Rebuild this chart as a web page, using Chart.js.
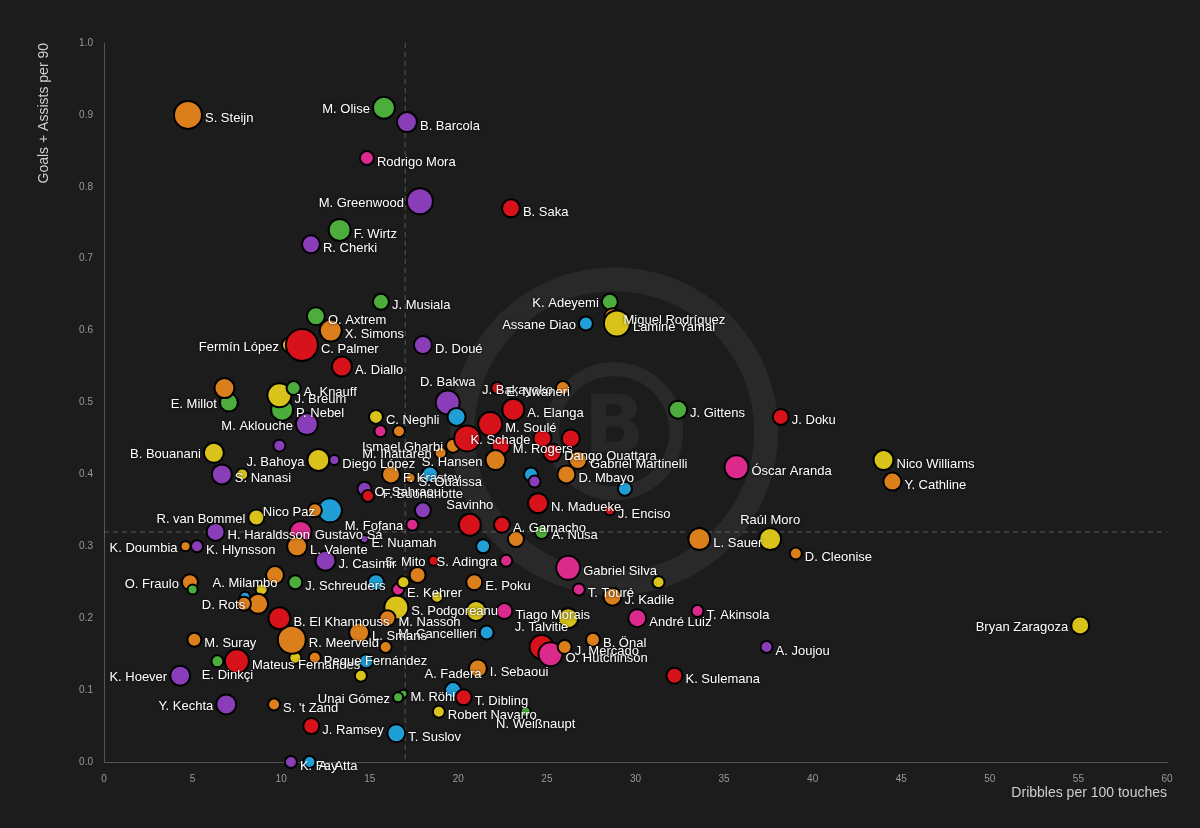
<!DOCTYPE html>
<html>
<head>
<meta charset="utf-8">
<script src="https://cdn.jsdelivr.net/npm/chart.js@4"></script>
<style>
  body { margin: 0; background: #1c1c1c; }
  #wrap { width: 1200px; height: 828px; }
</style>
</head>
<body>
<div id="wrap"><canvas id="chart"></canvas></div>
<script>
const names = ["S. Steijn","M. Olise","B. Barcola","Rodrigo Mora","M. Greenwood","B. Saka","F. Wirtz","R. Cherki","J. Musiala","O. Axtrem",
  "X. Simons","Fermín López","C. Palmer","A. Diallo","D. Doué","K. Adeyemi","Assane Diao","Miguel Rodríguez","Lamine Yamal","J. Bakayoko",
  "E. Nwaneri","J. Gittens","J. Doku","Óscar Aranda","Nico Williams","Y. Cathline","Raúl Moro","L. Sauer","D. Cleonise","Bryan Zaragoza",
  "A. Joujou","K. Sulemana","T. Akinsola","André Luiz","J. Kadile","Gabriel Silva","T. Touré","","Tiago Morais","",
  "J. Talvitie","O. Hutchinson","J. Mercado","B. Önal","M. Cancellieri","I. Sebaoui","A. Fadera","T. Dibling","M. Röhl","Unai Gómez",
  "Robert Navarro","N. Weißnaupt","T. Suslov","J. Ramsey","K. Fay","A. Atta","S. 't Zand","Y. Kechta","K. Hoever","E. Dinkçi",
  "Mateus Fernandes","","Peque Fernández","","","M. Suray","R. Meerveld","B. El Khannouss","L. Smans","",
  "S. Podgoreanu","M. Nassoh","","E. Kehrer","","","S. Mito","","S. Adingra","E. Poku",
  "","J. Schreuders","","J. Casimir","O. Fraulo","","A. Milambo","","D. Rots","",
  "K. Doumbia","K. Hlynsson","H. Haraldsson","R. van Bommel","Gustavo Sá","L. Valente","Nico Paz","","E. Nuamah","M. Fofana",
  "F. Buonanotte","O. Sahraoui","","F. Krastev","S. Ouaissa","","J. Bahoya","Diego López","S. Nanasi","",
  "B. Bouanani","","M. Aklouche","P. Nebel","J. Breum","A. Knauff","E. Millot","","C. Neghli","",
  "","Ismael Gharbi","","M. Ihattaren","D. Bakwa","","M. Soulé","A. Elanga","K. Schade","",
  "M. Rogers","Dango Ouattara","S. Hansen","","","Gabriel Martinelli","D. Mbayo","","N. Madueke","J. Enciso",
  "Savinho","A. Garnacho","","A. Nusa",""];
const dribbles = [4.74,15.8,17.1,14.84,17.83,22.97,13.3,11.68,15.63,11.96,
  12.8,10.44,11.17,13.43,18.0,28.55,27.2,28.7,28.95,25.9,
  22.2,32.4,38.2,35.7,44.0,44.5,37.6,33.6,39.05,55.1,
  37.4,32.2,33.5,30.1,28.7,26.2,26.8,31.3,22.6,26.2,
  24.7,25.2,26.0,27.6,21.6,21.1,19.7,20.3,16.9,16.6,
  18.9,23.8,16.5,11.7,10.55,11.6,9.6,6.9,4.3,6.4,
  7.5,10.8,11.9,14.8,14.5,5.1,10.6,9.9,14.4,15.9,
  16.5,16.0,18.8,16.6,16.9,21.0,18.6,17.7,22.7,20.9,
  15.35,10.8,9.65,12.5,4.85,5.0,7.96,8.9,8.7,7.9,
  4.6,5.25,6.3,8.6,11.1,10.9,12.75,11.9,14.7,17.4,
  18.0,14.7,14.9,16.2,17.3,18.4,12.1,13.0,6.65,7.8,
  6.2,9.9,11.45,10.05,9.9,10.7,7.05,6.8,15.35,16.65,
  15.6,19.7,20.5,19.0,19.4,19.9,21.8,23.1,24.75,26.35,
  22.4,25.3,22.1,24.1,24.3,26.75,26.1,29.4,24.5,28.55,
  20.65,22.46,23.25,24.7,21.4];
const goalsAssists = [0.90,0.91,0.89,0.84,0.78,0.77,0.74,0.72,0.64,0.62,
  0.60,0.58,0.58,0.55,0.58,0.64,0.61,0.62,0.61,0.52,
  0.52,0.49,0.48,0.41,0.42,0.39,0.31,0.31,0.29,0.19,
  0.16,0.12,0.21,0.20,0.23,0.27,0.24,0.25,0.21,0.20,
  0.16,0.15,0.16,0.17,0.18,0.13,0.10,0.09,0.095,0.09,
  0.07,0.07,0.04,0.05,0.0,0.0,0.08,0.08,0.12,0.14,
  0.14,0.145,0.145,0.14,0.12,0.17,0.17,0.20,0.18,0.16,
  0.215,0.20,0.23,0.24,0.25,0.21,0.28,0.26,0.28,0.25,
  0.25,0.25,0.26,0.28,0.25,0.24,0.23,0.24,0.22,0.22,
  0.30,0.30,0.32,0.34,0.32,0.30,0.35,0.35,0.31,0.33,
  0.35,0.38,0.37,0.40,0.395,0.40,0.42,0.42,0.40,0.40,
  0.43,0.44,0.47,0.49,0.51,0.52,0.50,0.52,0.48,0.46,
  0.46,0.44,0.45,0.43,0.50,0.48,0.47,0.49,0.45,0.45,
  0.44,0.43,0.42,0.40,0.39,0.42,0.40,0.38,0.36,0.35,
  0.33,0.33,0.31,0.32,0.30];
const bubbleSize = [14,11,10,7,13,9,11,9,8,9,
  11,7,16,10,9,8,7,8,13,7,
  6,9,8,12,10,9,11,11,6,9,
  6,8,6,9,9,12,6,6,8,10,
  12,12,7,7,7,9,8,8,4,5,
  6,5,9,8,6,6,6,10,10,6,
  12,6,6,7,6,7,14,11,10,6,
  12,8,6,6,6,10,5,8,6,8,
  8,7,9,10,8,5,5,6,10,7,
  5,6,9,8,11,10,12,7,4,6,
  8,7,6,9,5,8,11,5,10,6,
  10,6,11,11,12,7,9,10,7,6,
  6,7,13,6,12,9,12,11,9,9,
  9,9,10,7,6,9,9,7,10,5,
  11,8,8,7,7];
const teamGroup = "ogpkprgpgg" + "oyrrpgboyo" + "rgrkyoyooy" + "prkkokkyky" + "rkoobobrgg" + "ygbrpboppg" + "ryobyooroo" + "yoykyyroko" + "bgopogbyoo" + "oppykobopk" + "pproobyppy" + "yppgyggoyo" + "koropbrrrr" + "rrobpoobrr" + "rrogb";
const labelSide = "rlrrlrrrrr" + "rlrrrllrrl" + "rrrrrrurrl" + "rrrrrrr.r." + "urrrlrurrl" + "rdrrrrrlld" + "r.r..rrrr." + "rr.r..l.lr" + ".r.rl.u.l." + "lrrlrrl.rl" + "ur.rr.lrr." + "l.lrrrl.r." + ".l.lu.rrl." + "rrl..rr.rr" + "ur.r.";

const palette = { o: "#db7f1d", g: "#4cad3c", p: "#8a3db8", r: "#d7121b", k: "#db2a8c", y: "#d9c31a", b: "#1f9fd5" };

const points = names.map((n, i) => ({ x: dribbles[i], y: goalsAssists[i], r: bubbleSize[i] }));
const colors = names.map((n, i) => palette[teamGroup[i]] || "#888");

// faint club logo behind the points
const watermark = {
  id: "watermark",
  beforeDatasetsDraw(chart) {
    const { ctx, scales } = chart;
    const cx = scales.x.getPixelForValue(28.8), cy = scales.y.getPixelForValue(0.46);
    ctx.save();
    ctx.strokeStyle = "rgba(255,255,255,0.06)";
    ctx.lineWidth = 24;
    ctx.beginPath(); ctx.arc(cx, cy, 152, 0, Math.PI * 2); ctx.stroke();
    ctx.lineWidth = 14;
    ctx.beginPath(); ctx.arc(cx, cy, 62, 0, Math.PI * 2); ctx.stroke();
    ctx.fillStyle = "rgba(255,255,255,0.05)";
    ctx.font = "bold 80px 'DejaVu Sans'";
    ctx.textAlign = "center"; ctx.textBaseline = "middle";
    ctx.fillText("B", cx, cy);
    ctx.restore();
  }
};

// dashed reference lines
const refLines = {
  id: "refLines",
  beforeDatasetsDraw(chart) {
    const { ctx, chartArea: a, scales } = chart;
    const vx = scales.x.getPixelForValue(17), hy = scales.y.getPixelForValue(0.32);
    ctx.save();
    ctx.strokeStyle = "rgba(200,200,200,0.35)";
    ctx.lineWidth = 1;
    ctx.setLineDash([5, 4]);
    ctx.beginPath(); ctx.moveTo(vx, a.top); ctx.lineTo(vx, a.bottom); ctx.stroke();
    ctx.beginPath(); ctx.moveTo(a.left, hy); ctx.lineTo(a.right, hy); ctx.stroke();
    ctx.restore();
  }
};

const pointLabels = {
  id: "pointLabels",
  afterDatasetsDraw(chart) {
    const { ctx } = chart;
    const meta = chart.getDatasetMeta(0);
    ctx.save();
    ctx.font = "13px 'Liberation Sans', Arial, sans-serif";
    ctx.fillStyle = "#ffffff";
    ctx.shadowColor = "rgba(0,0,0,0.9)";
    ctx.shadowBlur = 3;
    meta.data.forEach((el, i) => {
      if (!names[i]) return;
      const r = bubbleSize[i];
      const side = labelSide[i];
      ctx.textBaseline = "middle";
      if (side === "l") { ctx.textAlign = "right"; ctx.fillText(names[i], el.x - r - 3, el.y + 2); }
      else if (side === "u") { ctx.textAlign = "center"; ctx.fillText(names[i], el.x, el.y - r - 8); }
      else if (side === "d") { ctx.textAlign = "center"; ctx.fillText(names[i], el.x + 10, el.y + r + 8); }
      else { ctx.textAlign = "left"; ctx.fillText(names[i], el.x + r + 3, el.y + 4); }
    });
    ctx.restore();
  }
};

new Chart(document.getElementById("chart"), {
  type: "bubble",
  data: {
    datasets: [{
      data: points,
      backgroundColor: colors,
      borderColor: "#000000",
      borderWidth: 2,
      hoverBorderWidth: 2,
      clip: false
    }]
  },
  options: {
    responsive: true,
    maintainAspectRatio: false,
    animation: false,
    layout: { padding: { top: 43, right: 33, left: 32, bottom: 22 } },
    plugins: { legend: { display: false }, tooltip: { enabled: false } },
    scales: {
      x: {
        min: 0, max: 60,
        grid: { display: false },
        border: { color: "#555" },
        ticks: { stepSize: 5, color: "#999", font: { size: 10 } },
        title: { display: true, text: "Dribbles per 100 touches", align: "end", color: "#cfcfcf", font: { size: 14 }, padding: { top: 10 } },
        afterFit(s) { s.height = 44; }
      },
      y: {
        min: 0, max: 1.0,
        grid: { display: false },
        border: { color: "#555" },
        ticks: { stepSize: 0.1, color: "#999", font: { size: 10 }, callback: v => v.toFixed(1) },
        title: { display: true, text: "Goals + Assists per 90", align: "end", color: "#cfcfcf", font: { size: 14 } },
        afterFit(s) { s.width = 72; }
      }
    }
  },
  plugins: [watermark, refLines, pointLabels]
});
</script>
</body>
</html>
